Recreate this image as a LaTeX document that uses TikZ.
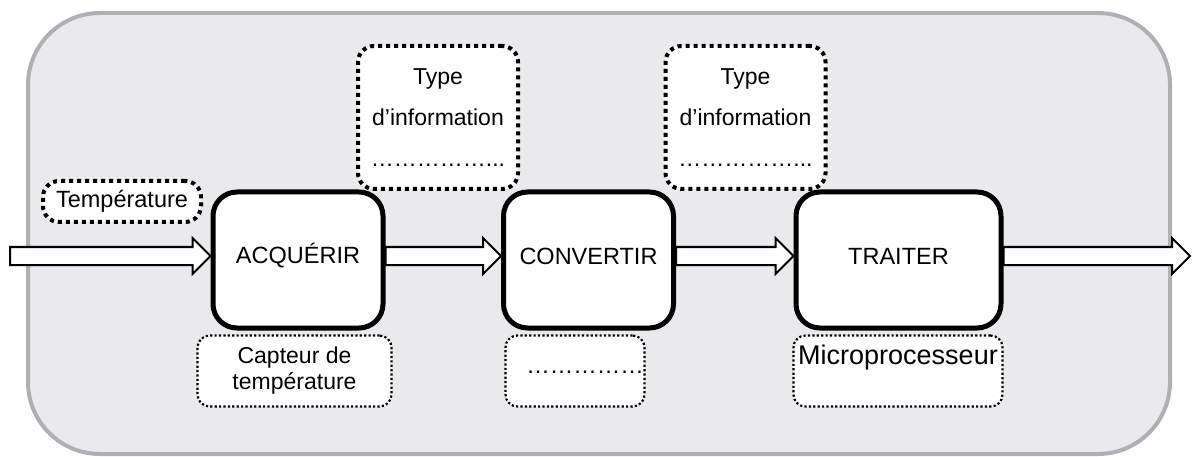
\documentclass[tikz,border=0pt]{standalone}
\usepackage{fontspec}
\setmainfont{Liberation Sans}
\usetikzlibrary{calc}
\newcommand\flowarrow[2]{\draw[flow] ($(#1)+(0,-9)$) -- ($(#2)+(-18,-9)$) -- ($(#2)+(-18,-18)$) -- (#2) -- ($(#2)+(-18,18)$) -- ($(#2)+(-18,9)$) -- ($(#1)+(0,9)$) -- cycle;}
\begin{document}
\begin{tikzpicture}[x=1pt,y=-1pt,
  every node/.style={font=\fontsize{23.5}{27}\selectfont},
  frame/.style={draw={rgb,255:red,176;green,176;blue,180}, line width=4pt, fill={rgb,255:red,234;green,234;blue,236}, rounded corners=72pt},
  func/.style={draw=black, line width=5pt, fill=white, rounded corners=24pt, inner sep=0pt},
  thickdot/.style={draw=black, line width=4pt, dash pattern=on 4pt off 4pt, fill=white, rounded corners=16pt, inner sep=0pt},
  thindot/.style={draw=black, line width=2.2pt, dash pattern=on 2.2pt off 2.2pt, fill=white, rounded corners=12pt, inner sep=0pt},
  flow/.style={draw=black, line width=2pt, fill=white, line join=miter},
]
\useasboundingbox (0,0) rectangle (1194,457);
\draw[frame] (28,13) rectangle (1170,454);

% function boxes
\node[func, minimum width=170pt, minimum height=136pt] (acq) at (298,260) {};
\node[func, minimum width=170pt, minimum height=136pt] (conv) at (588.5,260) {};
\node[func, minimum width=205pt, minimum height=136pt] (trait) at (898.5,260) {};
\node (acqt) at (298,256) {ACQUÉRIR};
\node (convt) at (588.5,256) {CONVERTIR};
\node (traitt) at (898.5,256) {TRAITER};

% labels
\node[thickdot, minimum width=158pt, minimum height=41pt] (temp) at (122,201.5) {Température};
\node[thickdot, minimum width=160pt, minimum height=143pt, align=center, font=\fontsize{23}{41}\selectfont] (type1) at (438,117.5) {Type\\d’information\\……………...};
\node[thickdot, minimum width=160pt, minimum height=143pt, align=center, font=\fontsize{23}{41}\selectfont] (type2) at (745.5,117.5) {Type\\d’information\\……………...};
\node[thindot, minimum width=194pt, minimum height=71pt, align=center, font=\fontsize{23}{26}\selectfont] (capt) at (294.5,371) {Capteur de\\température};
\node[thindot, minimum width=139pt, minimum height=71pt] (conv2) at (575,371) {};
\node at (585,372) {……………};
\node[thindot, minimum width=209pt, minimum height=71pt] (micro) at (898,371) {};
\node[font=\fontsize{27}{30}\selectfont] (microt) at (898,358) {Microprocesseur};

% flows
\coordinate (in) at (10,256);
\coordinate (out) at (1190,256);
\coordinate (a1) at (acq.west |- in);
\coordinate (a2) at (acq.east |- in);
\coordinate (c1) at (conv.west |- in);
\coordinate (c2) at (conv.east |- in);
\coordinate (t1) at (trait.west |- in);
\coordinate (t2) at (trait.east |- in);
\flowarrow{in}{a1}
\flowarrow{a2}{c1}
\flowarrow{c2}{t1}
\flowarrow{t2}{out}
\end{tikzpicture}
\end{document}
